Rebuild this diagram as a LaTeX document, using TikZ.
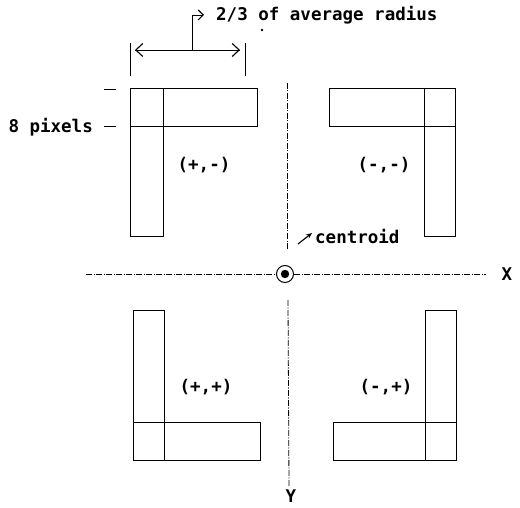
\documentclass[tikz,border=0pt]{standalone}
\usepackage{fontspec}
\newfontfamily\dotfont{DejaVu Sans Mono}
\usetikzlibrary{arrows.meta, positioning, calc}
\tikzset{
  bar/.style   ={draw=black, line width=0.9pt},
  axis/.style  ={draw=black, line width=0.8pt, dash pattern=on 6pt off 1.5pt on 1pt off 1.5pt},
  txt/.style   ={font=\dotfont\bfseries\fontsize{17.5}{20}\selectfont, inner sep=0pt},
  dim/.style   ={draw=black, line width=0.9pt},
  ar/.style    ={-{Straight Barb[length=7pt,width=13pt,line width=1.1pt]}, dim},
  sar/.style   ={-{Stealth[length=6pt,width=5pt]}, dim, line width=1.1pt},
}
\begin{document}
\begin{tikzpicture}[x=1pt,y=-1pt]
\useasboundingbox (0,0) rectangle (520,508);
% L-shaped windows
\draw[bar] (130,88) rectangle (163,236); \draw[bar] (130,88) rectangle (257,126);
\draw[bar] (424,88) rectangle (455,236); \draw[bar] (329,88) rectangle (455,126);
\draw[bar] (133,310) rectangle (164,460); \draw[bar] (133,422) rectangle (260,460);
\draw[bar] (425,310) rectangle (456,460); \draw[bar] (333,422) rectangle (456,460);
\node[txt] (pm) at (204,165) {(+,-)};
\node[txt] (mm) at (384,165) {(-,-)};
\node[txt] (pp) at (206,387) {(+,+)};
\node[txt] (mp) at (386,387) {(-,+)};
% axes and centroid
\node[circle, draw, line width=1pt, minimum size=17pt, inner sep=0pt] (c) at (285,274) {};
\fill (c.center) circle (4.2pt);
\node[txt] (x) at (507,274) {X};
\node[txt] (y) at (291,496) {Y};
\draw[axis] (86,274) -- (c.west); \draw[axis] (c.east) -- (486,274);
\draw[axis] (287,83) -- (287,250); \draw[axis] (288,300) -- (289,486);
\node[txt, anchor=west] (cen) at (315,237) {centroid};
\coordinate (cenf) at (298,244);
\draw[sar] (cenf) -- ($(cen.west)+(-3,-4)$);
% 8 pixels
\node[txt, anchor=east] (px) at (93,127) {8 pixels};
\draw[dim] (104,89) -- (116,89); \draw[dim] (104,126) -- (116,126);
% 2/3 of average radius
\coordinate (dl) at (130,50); \coordinate (dr) at (245,50);
\draw[dim] (130,43) -- (130,76); \draw[dim] (245,43) -- (245,76);
\draw[ar] ($(dl)+(5,0)$) -- ($(dr)+(-5,0)$);
\draw[ar] ($(dr)+(-5,0)$) -- ($(dl)+(5,0)$);
\node[txt, anchor=west] (rad) at (216,15) {2/3 of average radius};
\coordinate (dm) at (192,50);
\draw[-{Straight Barb[length=5pt,width=10pt,line width=1.1pt]}, dim] (dm) |- ($(rad.west)+(-12,0)$);
\fill (262,30) circle (1.3pt);
\end{tikzpicture}
\end{document}
